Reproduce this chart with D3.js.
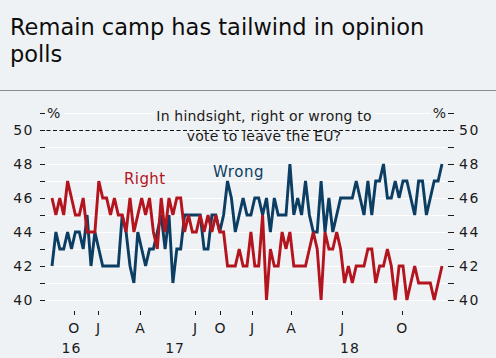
<!DOCTYPE html>
<html><head><meta charset="utf-8">
<script src="https://cdn.jsdelivr.net/npm/d3@7"></script>
<style>html,body{margin:0;padding:0;background:#eff2f4;} svg{display:block;font-family:"DejaVu Sans",sans-serif;}</style>
</head><body><svg id="c" width="496" height="358"></svg>
<script>
const titleLines = ["Remain camp has tailwind in opinion", "polls"];
const subtitleLines = ["In hindsight, right or wrong to", "vote to leave the EU?"];
const seriesNames = ["Right", "Wrong"];
const rightValues = [
  46,45,46,45,47,46,45,45,46,44, 44,44,47,46,46,45,46,45,45,44,
  46,44,45,46,45,46,44,43,46,44, 46,45,46,46,44,45,44,44,45,44,
  45,44,45,44,44,42,42,42,43,42, 42,44,42,
  42,45,40,43,42,42,44,43,44,42, 42,42,42,43,44,43,40,44,43,43,
  44,43,41,42,41,42,42,42, 43,43,41,42,42,43,42,40,42,42,
  40,41,42,41,41,41,41,40,41,42
];
const wrongValues = [
  42,44,43,43,44,43,44,44,43,45, 42,44,43,42,42,42,42,42,45,44,
  42,41,44,43,42,43,43,44,45,43, 45,41,43,43,45,45,45,45,45,43,
  43,45,45,44,45,47,46,44,45,46, 45,45,46,
  46,45,46,44,46,45,45,45,48,45, 46,45,47,45,44,44,47,44,46,44,
  45,46,46,46,46,47,46,45, 47,45,47,47,48,46,46,47,46,47,
  47,46,45,47,47,45,46,47,47,48
];
const yTickValues = [40,41,42,43,44,45,46,47,48,49,50,51];
const yLabelValues = [40,42,44,46,48,50];
const monthLabels = ["O","J","A","J","O","J","A","J","O"];
const monthPollIndex = [5.6,11.8,22.6,36.7,43.1,51.3,61.3,74.4,89.7];
const yearLabels = ["16","17","18"];
const yearStartPollIndex = [null, 11.8, 51.3];

const svg = d3.select("#c");
const W = 496, H = 358;
const colRight = "#b3141d", colWrong = "#0c3d63", ink = "#1b1b1b";
const plotL = 45, plotR = 448;

svg.append("rect").attr("width", W).attr("height", H).attr("fill", "#eff2f4");

// title
const t = svg.append("text").attr("x", 10).attr("font-size", 22.5).attr("fill", "#0d0d0d");
titleLines.forEach((s, i) => t.append("tspan").attr("x", 10).attr("y", 35 + i * 27).text(s));
svg.append("line").attr("x1", 0).attr("x2", W).attr("y1", 90.5).attr("y2", 90.5)
  .attr("stroke", "#8c8c8c").attr("stroke-width", 1);

const N = rightValues.length;
const x = d3.scaleLinear().domain([0, N - 1]).range([52, 442]);
const y = d3.scaleLinear().domain([40, 50]).range([300, 130]);

// gridlines
yTickValues.filter(v => v !== 50).forEach(v => {
  const top = v === 51;
  svg.append("line").attr("x1", top ? 64 : plotL + 1).attr("x2", top ? 430 : plotR - 2)
    .attr("y1", Math.round(y(v)) + 0.5).attr("y2", Math.round(y(v)) + 0.5)
    .attr("stroke", "#ffffff").attr("stroke-width", 1.2);
});
svg.append("line").attr("x1", 40).attr("x2", 454)
  .attr("y1", Math.round(y(50)) + 0.5).attr("y2", Math.round(y(50)) + 0.5)
  .attr("stroke", "#111").attr("stroke-width", 1).attr("stroke-dasharray", "4,2.5");

// y axes
const yl = d3.axisLeft(y).tickValues(yTickValues).tickSize(5).tickFormat(d => yLabelValues.includes(d) ? d : "");
const yr = d3.axisRight(y).tickValues(yTickValues).tickSize(6).tickFormat(d => yLabelValues.includes(d) ? d : "");
const gl = svg.append("g").attr("transform", `translate(${plotL},0)`).call(yl);
const gr = svg.append("g").attr("transform", `translate(${plotR},0)`).call(yr);
[gl, gr].forEach(g => {
  g.select(".domain").remove();
  g.selectAll("line").attr("stroke", ink);
  g.selectAll("text").attr("fill", ink).attr("font-size", 14).attr("letter-spacing", 1.5)
    .attr("font-family", "DejaVu Sans");
});
gl.selectAll("text").attr("x", -11);
gr.selectAll("text").attr("x", 11);
svg.append("text").attr("x", 47).attr("y", y(51) + 5).attr("font-size", 14).attr("fill", ink).text("%");
svg.append("text").attr("x", 446).attr("y", y(51) + 5).attr("text-anchor", "end").attr("font-size", 14).attr("fill", ink).text("%");

// subtitle
const subG = svg.append("g");
const sub = subG.append("text").attr("text-anchor", "middle").attr("font-size", 14)
  .attr("letter-spacing", 0.2).attr("fill", ink);
subtitleLines.forEach((s, i) => sub.append("tspan").attr("x", 264).attr("y", 121 + i * 20).text(s));
const firstLine = sub.select("tspan").node();
const bb = firstLine.getBBox();
subG.insert("rect", "text").attr("x", bb.x - 2).attr("y", bb.y + 2).attr("width", bb.width + 4).attr("height", bb.height - 6)
  .attr("fill", "#eff2f4");

// x axis
const xg = svg.append("g");
monthLabels.forEach((m, i) => {
  const px = x(monthPollIndex[i]);
  xg.append("line").attr("x1", Math.round(px) + 0.5).attr("x2", Math.round(px) + 0.5)
    .attr("y1", 311).attr("y2", 315).attr("stroke", ink);
  xg.append("text").attr("x", px).attr("y", 333).attr("text-anchor", "middle")
    .attr("font-size", 14).attr("fill", ink).text(m);
});
yearLabels.forEach((yl, i) => {
  const a = yearStartPollIndex[i] === null ? plotL : x(yearStartPollIndex[i]);
  const b = i + 1 < yearLabels.length ? x(yearStartPollIndex[i + 1]) : plotR;
  xg.append("text").attr("x", (a + b) / 2).attr("y", 353).attr("text-anchor", "middle")
    .attr("font-size", 14).attr("letter-spacing", 1).attr("fill", ink).text(yl);
});

// lines
const line = d3.line().x((d, i) => x(i)).y(d => y(d));
svg.append("path").datum(wrongValues).attr("d", line).attr("fill", "none")
  .attr("stroke", colWrong).attr("stroke-width", 2.9).attr("stroke-linejoin", "miter");
svg.append("path").datum(rightValues).attr("d", line).attr("fill", "none")
  .attr("stroke", colRight).attr("stroke-width", 2.9).attr("stroke-linejoin", "miter");

// series labels
svg.append("text").attr("x", 124).attr("y", 184).attr("font-size", 15).attr("letter-spacing", 0.4)
  .attr("fill", colRight).text(seriesNames[0]);
svg.append("text").attr("x", 213).attr("y", 177).attr("font-size", 15).attr("letter-spacing", 0.6)
  .attr("fill", colWrong).text(seriesNames[1]);
</script></body></html>
